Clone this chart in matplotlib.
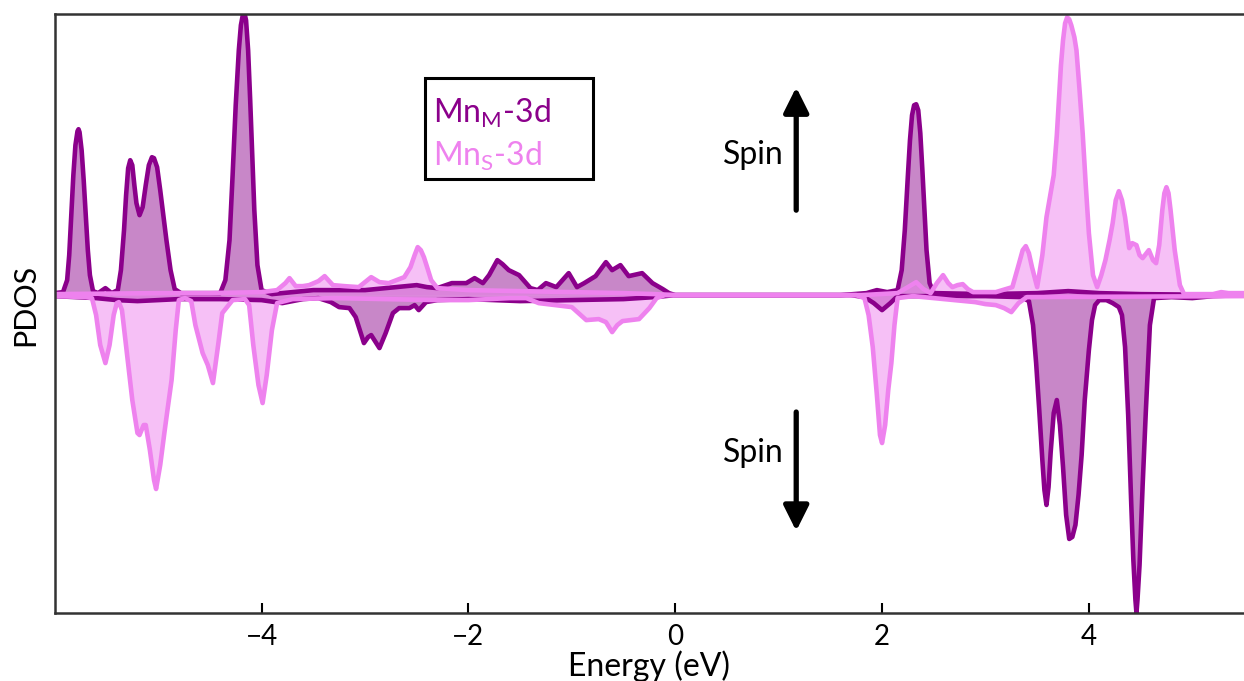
import matplotlib
matplotlib.use("Agg")
import matplotlib.pyplot as plt
from matplotlib.patches import Rectangle

plt.rcParams['font.family'] = ['Lato', 'DejaVu Sans']

# -----------------------
# PDOS data (energy in eV, DOS in arb. units)
# -----------------------
mnm_up_e = [-6.00, -5.92, -5.88, -5.86, -5.84, -5.82, -5.80, -5.78, -5.77, -5.76, -5.74,
            -5.72, -5.70, -5.68, -5.66, -5.63, -5.58, -5.51, -5.45, -5.39, -5.36, -5.33,
            -5.31, -5.29, -5.27, -5.25, -5.23, -5.21, -5.18, -5.15, -5.12, -5.09, -5.06,
            -5.04, -5.01, -4.98, -4.95, -4.92, -4.88, -4.84, -4.78, -4.60, -4.40, -4.35,
            -4.31, -4.28, -4.25, -4.22, -4.20, -4.18, -4.165, -4.15, -4.13, -4.11, -4.09,
            -4.07, -4.04, -4.00, -3.90, -3.70, -3.50, -3.00, -2.50, -2.40, -2.30, -2.16,
            -2.02, -1.94, -1.86, -1.80, -1.72, -1.67, -1.61, -1.51, -1.40, -1.33, -1.25,
            -1.15, -1.03, -0.95, -0.88, -0.77, -0.67, -0.61, -0.53, -0.45, -0.32, -0.22,
            -0.12, -0.06, 0.00, 1.60, 1.85, 1.95, 2.05, 2.15, 2.19, 2.22, 2.25, 2.27,
            2.29, 2.31, 2.33, 2.35, 2.37, 2.39, 2.41, 2.43, 2.46, 2.50, 3.00, 3.50,
            3.80, 4.10, 4.50, 5.50]
mnm_up_v = [0.02, 0.03, 0.15, 0.40, 0.80, 1.20, 1.50, 1.64, 1.66, 1.63, 1.45,
            1.15, 0.80, 0.45, 0.20, 0.04, 0.02, 0.07, 0.02, 0.05, 0.25, 0.65,
            1.00, 1.27, 1.35, 1.30, 1.10, 0.92, 0.80, 0.88, 1.10, 1.30, 1.38,
            1.37, 1.28, 1.05, 0.80, 0.55, 0.25, 0.06, 0.02, 0.02, 0.02, 0.15,
            0.55, 1.20, 1.90, 2.45, 2.70, 2.81, 2.82, 2.75, 2.45, 1.95, 1.40,
            0.85, 0.30, 0.05, 0.01, 0.03, 0.05, 0.05, 0.10, 0.08, 0.07, 0.12,
            0.12, 0.17, 0.12, 0.20, 0.35, 0.31, 0.25, 0.20, 0.07, 0.05, 0.12,
            0.08, 0.22, 0.08, 0.12, 0.19, 0.33, 0.25, 0.30, 0.19, 0.22, 0.12,
            0.06, 0.02, 0.00, 0.00, 0.02, 0.05, 0.03, 0.05, 0.25, 0.65, 1.20, 1.55,
            1.80, 1.90, 1.91, 1.85, 1.62, 1.25, 0.85, 0.45, 0.12, 0.02, 0.01, 0.02,
            0.04, 0.02, 0.01, 0.00]

mnm_dn_e = [-6.00, -5.60, -5.40, -5.20, -5.00, -4.80, -4.40, -4.00, -3.80, -3.60, -3.45,
            -3.33, -3.25, -3.15, -3.09, -3.01, -2.97, -2.94, -2.86, -2.80, -2.73, -2.67,
            -2.57, -2.52, -2.48, -2.41, -2.30, -2.00, -1.50, -1.00, -0.50, -0.20, 0.00,
            1.70, 1.83, 1.92, 2.00, 2.08, 2.15, 3.00, 3.35, 3.42, 3.46, 3.49, 3.52,
            3.55, 3.57, 3.59, 3.61, 3.63, 3.66, 3.69, 3.72, 3.75, 3.78, 3.81, 3.84,
            3.87, 3.90, 3.93, 3.96, 4.00, 4.03, 4.06, 4.10, 4.17, 4.23, 4.29, 4.32,
            4.35, 4.38, 4.41, 4.43, 4.45, 4.46, 4.47, 4.49, 4.52, 4.55, 4.59, 4.63,
            4.80, 5.00, 5.20, 5.50]
mnm_dn_v = [-0.01, -0.03, -0.05, -0.06, -0.05, -0.04, -0.04, -0.05, -0.08, -0.04, -0.03,
            -0.07, -0.12, -0.13, -0.22, -0.48, -0.42, -0.40, -0.53, -0.38, -0.18, -0.13,
            -0.13, -0.10, -0.15, -0.07, -0.05, -0.04, -0.06, -0.05, -0.04, -0.02, 0.00,
            0.00, -0.02, -0.08, -0.15, -0.08, -0.01, -0.01, -0.02, -0.06, -0.30, -0.68, -1.15,
            -1.65, -1.95, -2.10, -1.92, -1.58, -1.18, -1.05, -1.30, -1.72, -2.20, -2.44, -2.42,
            -2.30, -2.00, -1.60, -1.05, -0.55, -0.25, -0.10, -0.05, -0.05, -0.08, -0.12, -0.20,
            -0.52, -1.20, -2.10, -2.65, -3.05, -3.18, -3.05, -2.70, -1.90, -1.18, -0.30, -0.03,
            -0.02, -0.03, -0.01, 0.00]

mns_up_e = [-6.00, -5.00, -4.50, -4.00, -3.85, -3.77, -3.73, -3.67, -3.60, -3.54, -3.45,
            -3.39, -3.31, -3.20, -3.06, -2.94, -2.86, -2.77, -2.62, -2.56, -2.52, -2.49,
            -2.46, -2.43, -2.39, -2.36, -2.30, -2.00, -1.50, -1.00, -0.50, -0.20, 0.00,
            1.80, 2.15, 2.25, 2.33, 2.40, 2.47, 2.53, 2.59, 2.64, 2.68, 2.73, 2.78,
            2.83, 2.88, 3.10, 3.26, 3.32, 3.36, 3.39, 3.42, 3.45, 3.50, 3.55, 3.59,
            3.63, 3.66, 3.69, 3.71, 3.73, 3.75, 3.77, 3.79, 3.81, 3.83, 3.86, 3.88,
            3.91, 3.94, 3.97, 4.00, 4.04, 4.08, 4.12, 4.16, 4.20, 4.23, 4.26, 4.29,
            4.32, 4.35, 4.39, 4.42, 4.46, 4.49, 4.52, 4.58, 4.62, 4.65, 4.68, 4.71,
            4.73, 4.75, 4.77, 4.79, 4.81, 4.83, 4.88, 4.92, 5.20, 5.28, 5.35, 5.50]
mns_up_v = [0.01, 0.02, 0.02, 0.03, 0.05, 0.12, 0.17, 0.09, 0.09, 0.10, 0.14,
            0.19, 0.10, 0.09, 0.08, 0.18, 0.13, 0.12, 0.18, 0.28, 0.40, 0.48,
            0.45, 0.38, 0.25, 0.15, 0.07, 0.05, 0.04, 0.03, 0.02, 0.01, 0.00,
            0.00, 0.02, 0.08, 0.13, 0.06, 0.02, 0.12, 0.20, 0.12, 0.08, 0.10, 0.11,
            0.06, 0.03, 0.03, 0.08, 0.30, 0.45, 0.49, 0.42, 0.28, 0.08, 0.40, 0.78,
            1.02, 1.20, 1.60, 1.95, 2.30, 2.55, 2.72, 2.78, 2.76, 2.70, 2.58, 2.45,
            2.05, 1.62, 1.10, 0.62, 0.20, 0.08, 0.20, 0.35, 0.55, 0.72, 0.95, 1.04,
            0.95, 0.78, 0.47, 0.52, 0.50, 0.40, 0.37, 0.45, 0.35, 0.32, 0.50, 0.85,
            1.02, 1.08, 1.02, 0.85, 0.65, 0.45, 0.10, 0.01, 0.01, 0.03, 0.02, 0.02]

mns_dn_e = [-6.00, -5.70, -5.64, -5.60, -5.56, -5.51, -5.47, -5.43, -5.40, -5.38, -5.35,
            -5.30, -5.25, -5.20, -5.18, -5.14, -5.12, -5.08, -5.04, -5.02, -4.98, -4.94,
            -4.91, -4.87, -4.83, -4.80, -4.74, -4.68, -4.64, -4.57, -4.52, -4.47, -4.42,
            -4.38, -4.28, -4.16, -4.12, -4.08, -4.03, -3.99, -3.95, -3.90, -3.85, -3.70,
            -3.30, -2.80, -2.30, -2.00, -1.60, -1.44, -1.32, -1.00, -0.86, -0.74, -0.67,
            -0.61, -0.56, -0.51, -0.35, -0.25, -0.18, -0.10, 0.00, 1.75, 1.83, 1.87,
            1.91, 1.95, 1.98, 2.00, 2.03, 2.06, 2.09, 2.12, 2.15, 2.30, 2.50, 2.70,
            2.90, 3.00, 3.10, 3.18, 3.25, 3.32, 3.40, 5.50]
mns_dn_v = [-0.01, -0.02, -0.03, -0.20, -0.50, -0.68, -0.50, -0.20, -0.08, -0.07, -0.15,
            -0.60, -1.05, -1.38, -1.40, -1.30, -1.30, -1.55, -1.85, -1.94, -1.70, -1.38,
            -1.15, -0.85, -0.35, -0.05, -0.03, -0.06, -0.30, -0.58, -0.70, -0.88, -0.50,
            -0.18, -0.05, -0.04, -0.10, -0.50, -0.90, -1.08, -0.80, -0.35, -0.08, -0.04,
            -0.03, -0.04, -0.05, -0.05, -0.03, -0.03, -0.08, -0.12, -0.25, -0.24, -0.27,
            -0.37, -0.30, -0.26, -0.24, -0.13, -0.03, 0.00, 0.00, 0.00, -0.03, -0.20,
            -0.52, -1.00, -1.40, -1.48, -1.30, -0.95, -0.68, -0.30, -0.03, -0.01, -0.03, -0.05,
            -0.07, -0.09, -0.10, -0.13, -0.17, -0.08, -0.02, -0.01]

xticks = [-4, -2, 0, 2, 4]
labels = ["Mn$_\\mathregular{M}$-3d", "Mn$_\\mathregular{S}$-3d"]

DARK = "#8b008b"
LIGHT = "#ee82ee"

# -----------------------
# Figure
# -----------------------
fig = plt.figure(figsize=(12.44, 6.81), dpi=100)
ax = fig.add_axes([0.044, 0.1, 0.956, 0.879])

for e, v in [(mnm_up_e, mnm_up_v), (mnm_dn_e, mnm_dn_v)]:
    ax.fill_between(e, v, 0, color=DARK, alpha=0.47, lw=0)
    ax.plot(e, v, color=DARK, lw=3.3, solid_joinstyle='round')

for e, v in [(mns_up_e, mns_up_v), (mns_dn_e, mns_dn_v)]:
    ax.fill_between(e, v, 0, color=LIGHT, alpha=0.5, lw=0)
    ax.plot(e, v, color=LIGHT, lw=3.3, solid_joinstyle='round')

ax.set_xlim(-6.0, 5.5)
ax.set_ylim(-3.18, 2.81)
ax.set_xticks(xticks)
ax.set_yticks([])
ax.tick_params(axis='x', direction='in', length=7, width=1.5,
               labelsize=20, pad=8, colors='black')
for side in ['left', 'top', 'bottom']:
    ax.spines[side].set_linewidth(1.8)
    ax.spines[side].set_color('#333333')
ax.spines['right'].set_visible(False)

ax.set_xlabel("Energy (eV)", fontsize=23, labelpad=0)
fig.text(0.02, 1 - 305 / 681, "PDOS", rotation=90, fontsize=22,
         ha='center', va='center')

# legend box
ax.add_patch(Rectangle((0.311, 0.725), 0.142, 0.168, transform=ax.transAxes,
                       fill=False, edgecolor='black', lw=2.2, zorder=5))
ax.text(0.318, 0.835, labels[0], color=DARK, fontsize=23,
        transform=ax.transAxes, va='center')
ax.text(0.318, 0.762, labels[1], color=LIGHT, fontsize=23,
        transform=ax.transAxes, va='center')

# spin arrows
ax.annotate("", xy=(1.17, 2.08), xytext=(1.17, 0.85),
            arrowprops=dict(arrowstyle='-|>', lw=3.8, color='black',
                            mutation_scale=38, shrinkA=0, shrinkB=0))
ax.annotate("", xy=(1.17, -2.36), xytext=(1.17, -1.17),
            arrowprops=dict(arrowstyle='-|>', lw=3.8, color='black',
                            mutation_scale=38, shrinkA=0, shrinkB=0))
ax.text(0.76, 1.40, "Spin", fontsize=23, ha='center', va='center')
ax.text(0.76, -1.58, "Spin", fontsize=23, ha='center', va='center')

plt.savefig("out.png", dpi=100)
plt.close()
